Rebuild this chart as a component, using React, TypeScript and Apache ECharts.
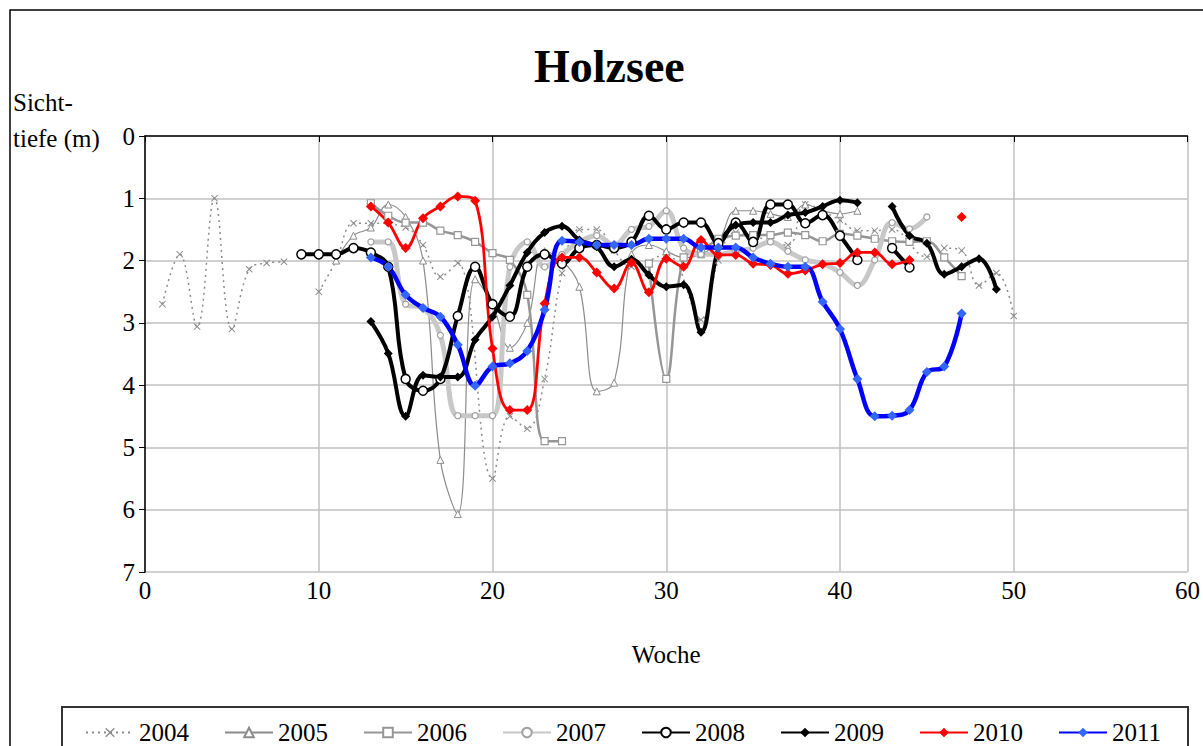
import React, { useEffect, useRef } from "react";
import * as echarts from "echarts";

const years = ["2004", "2005", "2006", "2007", "2008", "2009", "2010", "2011"];
const xTicks = [0, 10, 20, 30, 40, 50, 60];
const yTicks = [0, 1, 2, 3, 4, 5, 6, 7];

const weeks2004 = [1, 2, 3, 4, 5, 6, 7, 8, 9, 10, 11, 12, 13, 15, 16, 17, 18, 20, 21, 22, 23, 24, 25, 26, 27, 28, 30, 32, 33, 34, 37, 38, 40, 41, 42, 43, 45, 46, 47, 48, 49, 50];
const depth2004 = [2.7, 1.9, 3.06, 1.0, 3.1, 2.14, 2.04, 2.02, null, 2.5, 2.0, 1.4, 1.4, 1.47, 1.75, 2.26, 2.04, 5.5, 4.5, 4.7, 3.9, 2.2, 1.5, 1.5, 1.84, 2.1, 1.9, 2.95, 2.0, 1.55, 1.75, 1.1, 1.35, 1.52, 1.52, 1.5, 1.94, 1.8, 1.84, 2.4, 2.2, 2.89];

const weeks2005 = [11, 12, 13, 14, 15, 16, 17, 18, 19, 20, 21, 22, 23, 24, 25, 26, 27, 28, 29, 30, 31, 32, 33, 34, 35, 36, 37, 38, 39, 40, 41];
const depth2005 = [2.0, 1.6, 1.47, 1.1, 1.3, 2.0, 5.2, 6.07, 2.3, 2.7, 3.4, 3.0, 1.85, 2.0, 2.42, 4.1, 3.96, 1.9, 1.75, 1.85, 1.95, 1.9, 1.7, 1.2, 1.2, 1.25, 1.3, 1.1, 1.2, 1.25, 1.2];

const weeks2006 = [13, 14, 15, 16, 17, 18, 19, 20, 21, 22, 23, 24, 25, 29, 30, 31, 32, 33, 34, 35, 36, 37, 38, 39, 40, 41, 42, 43, 44, 45, 46, 47];
const depth2006 = [1.08, 1.28, 1.39, 1.39, 1.52, 1.59, 1.7, 1.88, 1.99, 2.55, 4.9, 4.9, null, 2.05, 3.9, 1.95, 1.85, 1.65, 1.6, 1.59, 1.59, 1.55, 1.59, 1.69, 1.57, 1.6, 1.65, 1.69, 1.7, 1.69, 1.95, 2.25];

const weeks2007 = [13, 14, 15, 16, 17, 18, 19, 20, 21, 22, 23, 24, 25, 26, 27, 28, 29, 30, 31, 32, 33, 34, 35, 36, 37, 38, 39, 40, 41, 42, 43, 44, 45];
const depth2007 = [1.7, 1.7, 2.7, 2.76, 3.2, 4.49, 4.49, 4.49, 2.1, 1.7, 2.1, 1.9, 1.7, 1.6, 1.75, 1.5, 1.45, 1.2, 1.8, 1.9, 1.9, 1.85, 1.8, 1.7, 1.85, 1.99, 2.05, 2.19, 2.4, 1.99, 1.39, 1.49, 1.3];

const weeks2008 = [9, 10, 11, 12, 13, 14, 15, 16, 17, 18, 19, 20, 21, 22, 23, 24, 25, 26, 27, 28, 29, 30, 31, 32, 33, 34, 35, 36, 37, 38, 39, 40, 41, 42, 43, 44];
const depth2008 = [1.9, 1.9, 1.9, 1.8, 1.87, 2.1, 3.9, 4.09, 3.9, 2.89, 2.1, 2.7, 2.9, 2.1, 1.9, 2.05, 1.8, 1.75, 1.8, 1.7, 1.28, 1.5, 1.39, 1.39, 1.72, 1.39, 1.7, 1.1, 1.1, 1.4, 1.27, 1.6, 1.99, null, 1.8, 2.11];

const weeks2009 = [13, 14, 15, 16, 17, 18, 19, 20, 21, 22, 23, 24, 25, 26, 27, 28, 29, 30, 31, 32, 33, 34, 35, 36, 37, 38, 39, 40, 41, 42, 43, 44, 45, 46, 47, 48, 49];
const depth2009 = [2.98, 3.49, 4.5, 3.84, 3.87, 3.87, 3.27, 2.9, 2.4, 1.87, 1.55, 1.45, 1.67, 1.78, 2.1, 1.98, 2.23, 2.42, 2.39, 3.15, 1.8, 1.43, 1.39, 1.39, 1.27, 1.23, 1.13, 1.03, 1.07, null, 1.13, 1.6, 1.72, 2.22, 2.1, 1.97, 2.46];

const weeks2010 = [13, 14, 15, 16, 17, 18, 19, 20, 21, 22, 23, 24, 25, 26, 27, 28, 29, 30, 31, 32, 33, 34, 35, 36, 37, 38, 39, 40, 41, 42, 43, 44, 45, 47];
const depth2010 = [1.13, 1.39, 1.8, 1.32, 1.13, 0.97, 1.04, 3.41, 4.4, 4.4, 2.69, 1.95, 1.95, 2.19, 2.45, 2.03, 2.51, 1.97, 2.1, 1.67, 1.91, 1.91, 2.05, 2.07, 2.21, 2.16, 2.06, 2.04, 1.87, 1.87, 2.06, 1.99, null, 1.3];

const weeks2011 = [13, 14, 15, 16, 17, 18, 19, 20, 21, 22, 23, 24, 25, 26, 27, 28, 29, 30, 31, 32, 33, 34, 35, 36, 37, 38, 39, 40, 41, 42, 43, 44, 45, 46, 47];
const depth2011 = [1.95, 2.1, 2.55, 2.76, 2.9, 3.35, 4.01, 3.7, 3.65, 3.45, 2.79, 1.68, 1.7, 1.75, 1.75, 1.75, 1.65, 1.65, 1.65, 1.79, 1.79, 1.79, 1.95, 2.05, 2.1, 2.1, 2.66, 3.1, 3.9, 4.5, 4.49, 4.4, 3.79, 3.7, 2.85];

const SERIF = "'Liberation Serif', 'Times New Roman', serif";
const X_MARK = "path://M0,1L1,0L5,4L9,0L10,1L6,5L10,9L9,10L5,6L1,10L0,9L4,5Z";

function pairs(weeks: number[], depths: (number | null)[]) {
  return weeks.map((w, i) => [w, depths[i] == null ? "-" : depths[i]]);
}

export default function App() {
  const ref = useRef<HTMLDivElement>(null);
  useEffect(() => {
    document.body.style.margin = "0";
    const chart = echarts.init(ref.current!, null, { renderer: "svg" });
    const smooth = 0.4;
    const series: any[] = [
      {
        name: years[0], type: "line", smooth, data: pairs(weeks2004, depth2004),
        symbol: X_MARK, symbolSize: 7,
        lineStyle: { color: "#8c8c8c", width: 1.5, type: [2, 4] },
        itemStyle: { color: "#8c8c8c" },
      },
      {
        name: years[1], type: "line", smooth, data: pairs(weeks2005, depth2005),
        symbol: "triangle", symbolSize: 7,
        lineStyle: { color: "#8c8c8c", width: 1.2 },
        itemStyle: { color: "#fff", borderColor: "#8c8c8c", borderWidth: 1 },
      },
      {
        name: years[2], type: "line", smooth, data: pairs(weeks2006, depth2006),
        symbol: "rect", symbolSize: 7,
        lineStyle: { color: "#969696", width: 2.5 },
        itemStyle: { color: "#fff", borderColor: "#969696", borderWidth: 1.2 },
      },
      {
        name: years[3], type: "line", smooth, data: pairs(weeks2007, depth2007),
        symbol: "circle", symbolSize: 6,
        lineStyle: { color: "#c8c8c8", width: 5 },
        itemStyle: { color: "#fff", borderColor: "#a0a0a0", borderWidth: 1.2 },
      },
      {
        name: years[4], type: "line", smooth, data: pairs(weeks2008, depth2008),
        symbol: "circle", symbolSize: 9,
        lineStyle: { color: "#000", width: 4 },
        itemStyle: { color: "#fff", borderColor: "#000", borderWidth: 1.5 },
      },
      {
        name: years[5], type: "line", smooth, data: pairs(weeks2009, depth2009),
        symbol: "diamond", symbolSize: 9,
        lineStyle: { color: "#000", width: 4 },
        itemStyle: { color: "#000" },
      },
      {
        name: years[6], type: "line", smooth, data: pairs(weeks2010, depth2010),
        symbol: "diamond", symbolSize: 10,
        lineStyle: { color: "#ff0000", width: 2.8 },
        itemStyle: { color: "#ff0000" },
      },
      {
        name: years[7], type: "line", smooth, data: pairs(weeks2011, depth2011),
        symbol: "diamond", symbolSize: 10,
        lineStyle: { color: "#0000ff", width: 4.5 },
        itemStyle: { color: "#3366ff" },
      },
    ];
    chart.setOption({
      animation: false,
      backgroundColor: "#fff",
      textStyle: { fontFamily: SERIF },
      grid: { left: 145, top: 136, width: 1044, height: 436, containLabel: false },
      xAxis: {
        type: "value", min: xTicks[0], max: xTicks[xTicks.length - 1], interval: 10,
        name: "Woche", nameLocation: "middle", nameGap: 70,
        nameTextStyle: { fontFamily: SERIF, fontSize: 25, color: "#000" },
        axisLine: { lineStyle: { color: "#000", width: 1.5 } },
        axisTick: { show: true, inside: false, length: 6, lineStyle: { color: "#000" } },
        axisLabel: { fontFamily: SERIF, fontSize: 25, color: "#000", margin: 6 },
        splitLine: { show: true, lineStyle: { color: "#c0c0c0", width: 1.5 } },
      },
      yAxis: {
        type: "value", inverse: true, min: yTicks[0], max: yTicks[yTicks.length - 1], interval: 1,
        axisLine: { show: true, lineStyle: { color: "#000", width: 1.5 } },
        axisTick: { show: true, inside: false, length: 6, lineStyle: { color: "#000" } },
        axisLabel: { fontFamily: SERIF, fontSize: 25, color: "#000", margin: 10 },
        splitLine: { show: true, lineStyle: { color: "#c0c0c0", width: 1.5 } },
      },
      legend: {
        data: years, left: 80, top: 715, itemWidth: 48, itemHeight: 12, itemGap: 35,
        textStyle: { fontFamily: SERIF, fontSize: 25, color: "#000" },
      },
      title: {
        text: "Holzsee", left: 529, top: 38,
        textStyle: { fontFamily: SERIF, fontSize: 46, fontWeight: "bold", color: "#000" },
      },
      graphic: [
        { type: "rect", shape: { x: 10, y: 10, width: 1240, height: 800 }, style: { fill: "none", stroke: "#000", lineWidth: 1.5 }, silent: true },
        { type: "rect", shape: { x: 62, y: 707, width: 1126, height: 80 }, style: { fill: "none", stroke: "#333", lineWidth: 2 }, silent: true },
        { type: "text", left: 13, top: 84, style: { text: "Sicht-\ntiefe (m)", fontFamily: SERIF, fontSize: 25, lineHeight: 36, fill: "#000" } },
      ],
      series,
    });
    return () => chart.dispose();
  }, []);
  return <div ref={ref} style={{ position: "absolute", left: 0, top: 0, width: 1203, height: 746 }} />;
}
